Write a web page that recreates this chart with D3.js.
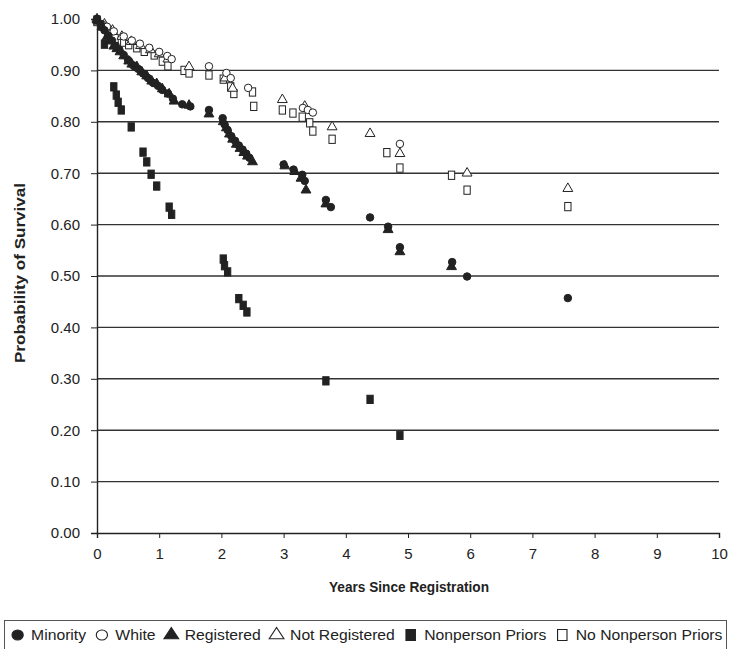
<!DOCTYPE html>
<html><head><meta charset="utf-8">
<script src="https://cdn.jsdelivr.net/npm/d3@7"></script>
<style>
body{margin:0;background:#fff}
text{font-family:"Liberation Sans Narrow","Liberation Sans",Arial,sans-serif;fill:#222}
</style>
</head><body><svg id="c" width="732" height="649"></svg>
<script>
const xTicks=[0,1,2,3,4,5,6,7,8,9,10];
const yTicks=[0,0.1,0.2,0.3,0.4,0.5,0.6,0.7,0.8,0.9,1.0];
const legendLabels=["Minority","White","Registered","Not Registered","Nonperson Priors","No Nonperson Priors"];

const minority=[[0,1.0],[0.06,0.99],[0.12,0.978],[0.18,0.968],[0.24,0.958],[0.3,0.948],[0.36,0.94],[0.43,0.93],[0.5,0.92],[0.58,0.91],[0.66,0.903],[0.74,0.894],[0.82,0.885],[0.9,0.876],[0.98,0.87],[1.05,0.862],[1.14,0.855],[1.22,0.845],[1.37,0.834],[1.5,0.83],[1.8,0.823],[2.02,0.807],[2.05,0.795],[2.1,0.784],[2.16,0.772],[2.22,0.763],[2.28,0.754],[2.34,0.746],[2.4,0.738],[2.45,0.73],[3.0,0.717],[3.16,0.707],[3.3,0.697],[3.34,0.685],[3.68,0.648],[3.76,0.634],[4.39,0.614],[4.68,0.596],[4.87,0.556],[5.71,0.527],[5.95,0.499],[7.57,0.457]];
const white=[[0,1.0],[0.08,0.99],[0.16,0.985],[0.27,0.976],[0.43,0.966],[0.56,0.958],[0.69,0.952],[0.84,0.944],[1.0,0.936],[1.13,0.928],[1.2,0.922],[1.8,0.908],[2.08,0.895],[2.15,0.885],[2.43,0.866],[3.31,0.827],[3.39,0.823],[3.47,0.818],[4.87,0.757]];
const registered=[[0,0.998],[0.08,0.985],[0.16,0.965],[0.21,0.957],[0.27,0.947],[0.32,0.942],[0.37,0.936],[0.43,0.928],[0.51,0.918],[0.56,0.912],[0.64,0.907],[0.72,0.897],[0.8,0.889],[0.88,0.879],[0.96,0.874],[1.05,0.864],[1.16,0.854],[1.24,0.84],[1.48,0.832],[1.8,0.815],[2.03,0.8],[2.08,0.788],[2.13,0.776],[2.18,0.766],[2.24,0.756],[2.3,0.748],[2.36,0.74],[2.42,0.733],[2.5,0.722],[3.02,0.714],[3.18,0.703],[3.28,0.69],[3.36,0.667],[3.68,0.64],[4.68,0.59],[4.87,0.547],[5.7,0.518]];
const notRegistered=[[0,1.0],[0.12,0.99],[0.25,0.978],[0.4,0.966],[0.55,0.956],[0.7,0.948],[0.86,0.94],[1.0,0.932],[1.14,0.922],[1.48,0.907],[2.06,0.885],[2.18,0.865],[2.98,0.843],[3.34,0.83],[3.78,0.79],[4.39,0.777],[4.87,0.738],[5.95,0.70],[7.57,0.67]];
const nonpersonPriors=[[0,0.998],[0.12,0.951],[0.27,0.868],[0.31,0.852],[0.34,0.838],[0.39,0.823],[0.55,0.79],[0.74,0.741],[0.8,0.722],[0.87,0.698],[0.96,0.675],[1.16,0.634],[1.2,0.62],[2.03,0.533],[2.05,0.52],[2.1,0.508],[2.28,0.456],[2.35,0.443],[2.41,0.43],[3.68,0.296],[4.39,0.26],[4.87,0.19]];
const noNonpersonPriors=[[0,0.995],[0.08,0.986],[0.21,0.977],[0.29,0.962],[0.43,0.955],[0.51,0.95],[0.64,0.944],[0.76,0.937],[0.92,0.93],[1.05,0.918],[1.14,0.909],[1.4,0.9],[1.48,0.895],[1.8,0.891],[2.03,0.883],[2.15,0.868],[2.2,0.855],[2.5,0.858],[2.52,0.83],[2.98,0.823],[3.15,0.817],[3.3,0.809],[3.42,0.798],[3.47,0.782],[3.78,0.766],[4.66,0.74],[4.87,0.71],[5.7,0.696],[5.95,0.667],[7.57,0.635]];

const svg=d3.select("#c");
const x=d3.scaleLinear().domain([0,10]).range([97,719]);
const y=d3.scaleLinear().domain([0,1]).range([533,19]);
const ink="#222";

// gridlines
svg.append("g").selectAll("line").data(yTicks.filter(t=>t>0&&t<1)).join("line")
  .attr("x1",x(0)).attr("x2",x(10)).attr("y1",d=>y(d)).attr("y2",d=>y(d))
  .attr("stroke","#333").attr("stroke-width",1.4);

// axes
const ya=svg.append("g").attr("transform",`translate(${x(0)},0)`)
  .call(d3.axisLeft(y).tickValues(yTicks).tickFormat(d3.format(".2f")).tickSize(6).tickPadding(11));
const xa=svg.append("g").attr("transform",`translate(0,${y(0)})`)
  .call(d3.axisBottom(x).tickValues(xTicks).tickFormat(d3.format("d")).tickSize(5).tickPadding(10));
[ya,xa].forEach(g=>{
  g.select(".domain").attr("stroke",ink).attr("stroke-width",1.4);
  g.selectAll(".tick line").attr("stroke",ink);
  g.selectAll(".tick text").attr("font-size",15).style("font-family","'Liberation Sans',Arial,sans-serif").attr("fill","#333");
});

// titles
svg.append("text").attr("x",409).attr("y",592).attr("text-anchor","middle")
  .attr("font-size",15).attr("font-weight","bold")
  .attr("textLength",160).attr("lengthAdjust","spacingAndGlyphs").text("Years Since Registration");
svg.append("text").attr("transform","translate(25,273) rotate(-90)").attr("text-anchor","middle")
  .attr("font-size",15).attr("font-weight","bold")
  .attr("textLength",180).attr("lengthAdjust","spacingAndGlyphs").text("Probability of Survival");

// markers
function marker(sel,type,filled,s){
  const fill=filled?ink:"#fff";
  if(type==="circle"){
    sel.append("circle").attr("r",s*0.5).attr("fill",fill).attr("stroke",ink).attr("stroke-width",1);
  }else if(type==="square"){
    sel.append("rect").attr("x",-s*0.42).attr("y",-s*0.55).attr("width",s*0.84).attr("height",s*1.1)
      .attr("fill",fill).attr("stroke",ink).attr("stroke-width",1);
  }else{
    sel.append("path").attr("d",d3.symbol(d3.symbolTriangle,s*s*0.75)()).attr("fill",fill).attr("stroke",ink).attr("stroke-width",1);
  }
}
const series=[
  {data:noNonpersonPriors,type:"square",filled:false},
  {data:notRegistered,type:"triangle",filled:false},
  {data:white,type:"circle",filled:false},
  {data:nonpersonPriors,type:"square",filled:true},
  {data:registered,type:"triangle",filled:true},
  {data:minority,type:"circle",filled:true}
];
series.forEach(s=>{
  svg.append("g").selectAll("g").data(s.data).join("g")
    .attr("transform",d=>`translate(${x(d[0])},${y(d[1])})`)
    .each(function(){marker(d3.select(this),s.type,s.filled,7.5);});
});

// legend
svg.append("rect").attr("x",4.5).attr("y",620.5).attr("width",722).attr("height",40)
  .attr("fill","#fff").attr("stroke","#555").attr("stroke-width",1);
const legTypes=[["circle",true],["circle",false],["triangle",true],["triangle",false],["square",true],["square",false]];
const lg=svg.append("g");
let cx=0;
legendLabels.forEach((lab,i)=>{
  const g=lg.append("g").attr("transform",`translate(${cx+5},0)`);
  marker(g,legTypes[i][0],legTypes[i][1],10);
  const t=g.append("text").attr("x",12).attr("y",5).attr("font-size",14).text(lab);
  cx+=12+t.node().getComputedTextLength()+14;
});
const total=cx-14;
const k=(717-12)/total;
lg.attr("transform",`translate(12,635) scale(${k},1)`);
</script>
</body></html>
